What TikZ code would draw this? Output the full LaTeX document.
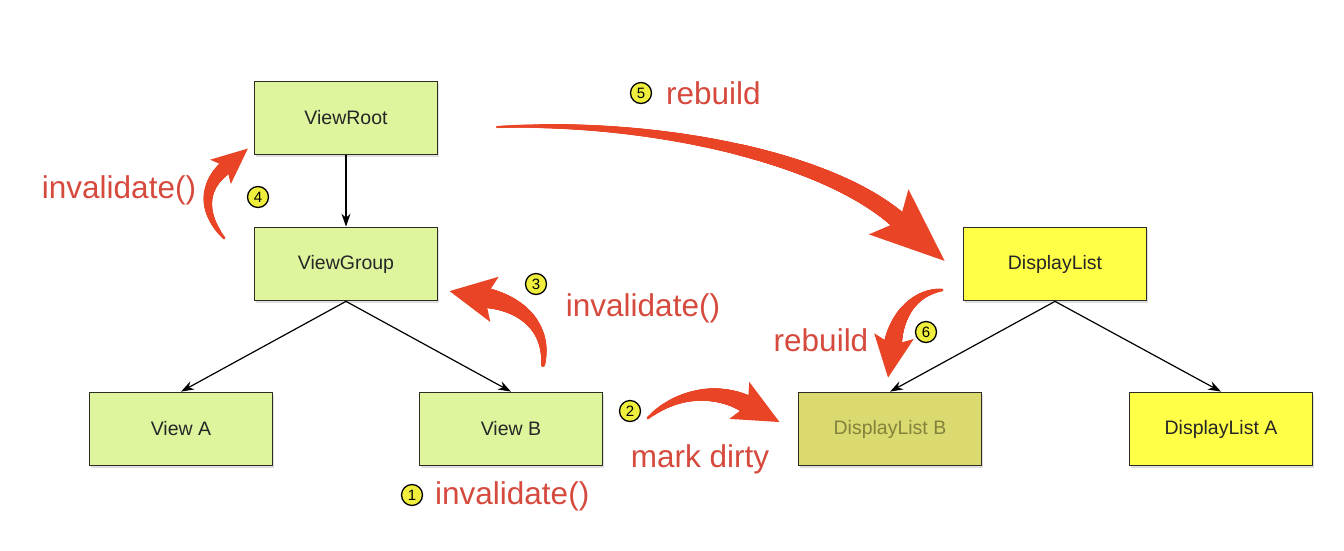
\documentclass[tikz,border=0pt]{standalone}
\usepackage{fontspec}
\setmainfont{Liberation Sans}
\usetikzlibrary{decorations.markings,shadows,arrows.meta,calc}
\definecolor{boxgreen}{RGB}{222,245,158}
\definecolor{boxyellow}{RGB}{255,255,72}
\definecolor{boxolive}{RGB}{218,218,112}
\definecolor{olivetext}{RGB}{130,130,60}
\definecolor{redc}{RGB}{234,68,38}
\definecolor{redtext}{RGB}{214,74,62}
\definecolor{numyellow}{RGB}{240,238,60}
\definecolor{boxborder}{RGB}{45,45,35}
% #1 tail radius, #2 end radius, #3 head length, #4 head half width,
% #5 start, #6 control 1, #7 control 2, #8 end (all named coordinates)
\newcommand{\myredarrow}[8]{%
  \path[shaft={#1}{#2}] (#5) .. controls (#6) and (#7) .. (#8);
  \pgfmathsetmacro\myback{0.2*#3}%
  \coordinate (#8hb) at ($(#8)!\myback pt!(#7)$);
  \fill[redc] ($(#8hb)!#4pt!90:(#8)$) -- ($(#8)!-#3pt!(#7)$) -- ($(#8hb)!#4pt!-90:(#8)$) -- ($(#8)!-2pt!(#7)$) -- cycle;}
\begin{document}
\begin{tikzpicture}[x=1pt,y=-1pt,
  box/.style={draw=boxborder,line width=1.7pt,minimum width=183pt,minimum height=73pt,
    font=\fontsize{19.5}{21}\selectfont,text=black!85,
    drop shadow={shadow xshift=1pt,shadow yshift=-2.5pt,opacity=0.25}},
  greenbox/.style={box,fill=boxgreen},
  yellowbox/.style={box,fill=boxyellow},
  olivebox/.style={box,fill=boxolive,text=olivetext},
  link/.style={line width=1.2pt,-{Stealth[length=13pt,width=9pt]}},
  redlabel/.style={text=redtext,font=\fontsize{31.5}{33}\selectfont,inner sep=0pt},
  num/.style={circle,draw=black,line width=1.3pt,fill=numyellow,inner sep=0pt,minimum size=21pt,
    font=\fontsize{15}{15}\selectfont},
  shaft/.style 2 args={decoration={markings,
    mark=between positions 0 and 1 step 0.7pt with {
      \pgfmathsetmacro\myrr{#1+(#2-#1)*\pgfkeysvalueof{/pgf/decoration/mark info/distance from start}/\pgfdecoratedpathlength}
      \fill[redc] (0,0) circle[radius=\myrr pt];}},
    decorate}
]
\useasboundingbox[fill=white] (0,0) rectangle (1344,550);

% boxes
\node[greenbox] (vr) at (346,118) {ViewRoot};
\node[greenbox] (vg) at (346,264) {ViewGroup};
\node[greenbox] (va) at (181,429) {View A};
\node[greenbox] (vb) at (511,429) {View B};
\node[yellowbox] (dl) at (1055,264) {DisplayList};
\node[olivebox] (dlb) at (890,429) {DisplayList B};
\node[yellowbox] (dla) at (1221,429) {DisplayList A};

% black links
\draw[link] (vr) -- (vg);
\draw[link] (vg.south) -- (va.north);
\draw[link] (vg.south) -- (vb.north);
\draw[link] (dl.south) -- (dlb.north);
\draw[link] (dl.south) -- (dla.north);

% red arrows
\coordinate (a5s) at (497,127); \coordinate (a5c) at (650,120); \coordinate (a5d) at (825,156); \coordinate (a5e) at (898,220);
\myredarrow{1.2}{9}{62}{30}{a5s}{a5c}{a5d}{a5e}
\coordinate (a4s) at (224,238); \coordinate (a4c) at (200,210); \coordinate (a4d) at (205,185); \coordinate (a4e) at (225,168);
\myredarrow{1.5}{7}{30}{16}{a4s}{a4c}{a4d}{a4e}
\coordinate (a3s) at (543,365); \coordinate (a3c) at (548,330); \coordinate (a3d) at (525,305); \coordinate (a3e) at (487,298);
\myredarrow{2}{10}{38}{23}{a3s}{a3c}{a3d}{a3e}
\coordinate (a2s) at (648,418); \coordinate (a2c) at (680,390); \coordinate (a2d) at (720,390); \coordinate (a2e) at (746,404);
\myredarrow{1.5}{9}{38}{21}{a2s}{a2c}{a2d}{a2e}
\coordinate (a6s) at (942,290); \coordinate (a6c) at (915,292); \coordinate (a6d) at (897,315); \coordinate (a6e) at (893,343);
\myredarrow{1.5}{9}{35}{20}{a6s}{a6c}{a6d}{a6e}

% numbers
\node[num] (n1) at (412,495) {1};
\node[num] (n2) at (630,411) {2};
\node[num] (n3) at (536,284) {3};
\node[num] (n4) at (258,197) {4};
\node[num] (n5) at (641,93) {5};
\node[num] (n6) at (926,332) {6};

% labels
\node[redlabel,anchor=west] (l5) at (666,93) {rebuild};
\node[redlabel] (l4) at (119,190) {invalidate()};
\node[redlabel] (l3) at (643,308) {invalidate()};
\node[redlabel] (l2) at (700,459) {mark dirty};
\node[redlabel,anchor=west] (l1) at (435,496) {invalidate()};
\node[redlabel] (l6) at (821,340) {rebuild};
\end{tikzpicture}
\end{document}
